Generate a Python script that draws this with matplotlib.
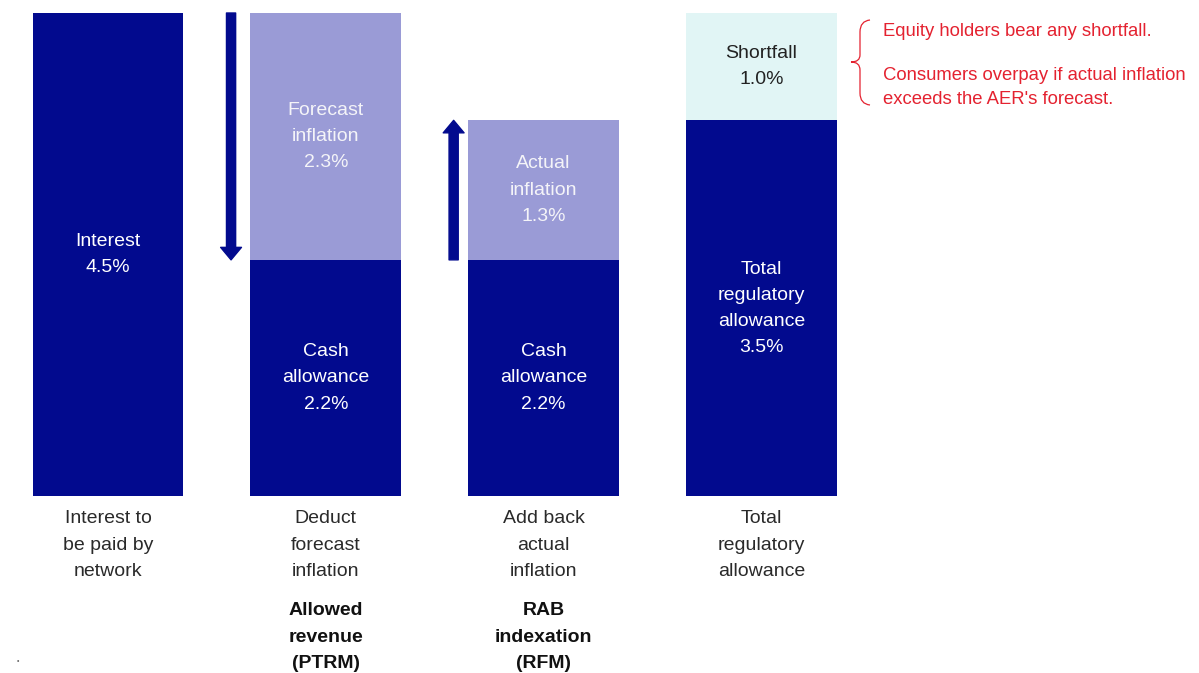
import numpy as np
import matplotlib
matplotlib.use('Agg')
import matplotlib.pyplot as plt
from matplotlib.path import Path
from matplotlib.patches import PathPatch

plt.rcParams['font.family'] = ['Liberation Sans', 'DejaVu Sans']

# data (percent)
steps = ['Interest to\nbe paid by\nnetwork', 'Deduct\nforecast\ninflation',
         'Add back\nactual\ninflation', 'Total\nregulatory\nallowance']
models = ['', 'Allowed\nrevenue\n(PTRM)', 'RAB\nindexation\n(RFM)', '']
base_vals = [4.5, 2.2, 2.2, 3.5]
top_vals = [0.0, 2.3, 1.3, 1.0]
base_labels = ['Interest\n4.5%', 'Cash\nallowance\n2.2%', 'Cash\nallowance\n2.2%',
               'Total\nregulatory\nallowance\n3.5%']
top_labels = ['', 'Forecast\ninflation\n2.3%', 'Actual\ninflation\n1.3%', 'Shortfall\n1.0%']

dark = '#020A8E'
light = '#9A9BD6'
pale = '#E1F5F5'
top_colors = [light, light, light, pale]
top_text = ['white', '#F4F4F8', '#F4F4F8', '#222222']
red = '#E42230'

W, H = 1199, 673
fig = plt.figure(figsize=(W / 100, H / 100), dpi=100)
ax = fig.add_axes([0, 0, 1, 1])
# pixel mapping: bar bottom at y=496px, 4.5% at y=13px; bar 0 centre at x=108px
ppu_y = (496 - 13) / 4.5
ppu_x = 217.8
ax.set_ylim(-(H - 496) / ppu_y, 4.5 + 13 / ppu_y)
ax.set_xlim(-108 / ppu_x, (W - 108) / ppu_x)
ax.axis('off')

def py(p):
    return (496 - p) / ppu_y

x = np.arange(len(steps))
bw = 151 / ppu_x
ax.bar(x, base_vals, width=bw, color=dark, edgecolor='none')
ax.bar(x, top_vals, bottom=base_vals, width=bw, color=top_colors, edgecolor='none')

fs = 14
ls = 1.7
for i in range(len(steps)):
    b = base_vals[i]
    t = top_vals[i]
    ax.text(x[i], b / 2, base_labels[i], ha='center', va='center', color='white',
            fontsize=fs, linespacing=ls)
    if t > 0:
        ax.text(x[i], b + t / 2, top_labels[i], ha='center', va='center',
                color=top_text[i], fontsize=fs, linespacing=ls)
    ax.text(x[i], py(545), steps[i], ha='center', va='center', color='#2a2a2a',
            fontsize=fs, linespacing=ls)
    if models[i]:
        ax.text(x[i], py(637), models[i], ha='center', va='center', color='#111111',
                fontsize=fs, fontweight='bold', linespacing=ls)

# arrows
arrow_style = 'simple,head_length=0.3,head_width=0.5,tail_width=0.22'
ax.annotate('', xy=(0.565, base_vals[1]), xytext=(0.565, 4.5),
            arrowprops=dict(arrowstyle=arrow_style, color=dark, mutation_scale=30,
                            shrinkA=0, shrinkB=0))
ax.annotate('', xy=(1.587, base_vals[2] + top_vals[2]), xytext=(1.587, base_vals[2]),
            arrowprops=dict(arrowstyle=arrow_style, color=dark, mutation_scale=30,
                            shrinkA=0, shrinkB=0))

# brace (figure pixel coordinates)
def fp(px, py_):
    return (px / W, 1 - py_ / H)

pts = [(870, 20), (860, 21), (860, 32), (860, 55), (860, 62), (851, 62),
       (860, 62), (860, 70), (860, 93), (860, 104), (870, 105)]
codes = [Path.MOVETO, Path.CURVE3, Path.CURVE3, Path.LINETO, Path.CURVE3, Path.CURVE3,
         Path.CURVE3, Path.CURVE3, Path.LINETO, Path.CURVE3, Path.CURVE3]
brace = PathPatch(Path([fp(*p) for p in pts], codes), fill=False, edgecolor=red,
                  lw=0.9, transform=fig.transFigure)
fig.add_artist(brace)

notes = ['Equity holders bear any shortfall.', 'Consumers overpay if actual inflation',
         "exceeds the AER's forecast."]
note_y = [32, 75, 100]
for s, yy in zip(notes, note_y):
    fig.text(883 / W, 1 - yy / H, s, color=red, fontsize=13.3, va='center', ha='left')

fig.text(18 / W, 1 - 661 / H, '•', color='#666666', fontsize=5, ha='center', va='center')

fig.savefig('out.png', dpi=100, facecolor='white')
